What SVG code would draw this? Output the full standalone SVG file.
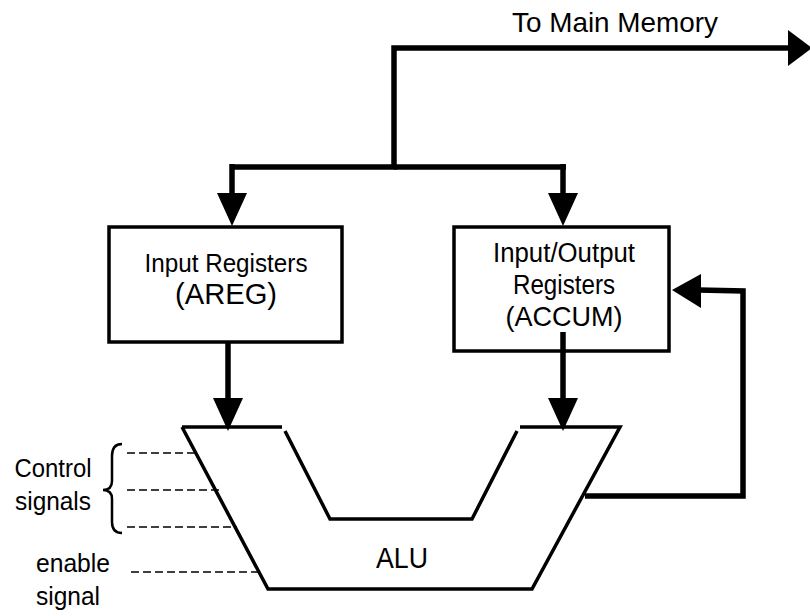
<svg xmlns="http://www.w3.org/2000/svg" width="810" height="616" viewBox="0 0 810 616">
<style>
.t{font-family:"Liberation Sans",Arial,sans-serif;fill:#000}
.box{fill:#fff;stroke:#000;stroke-width:3.5}
.w{fill:none;stroke:#000;stroke-width:5.5;stroke-linejoin:miter;stroke-linecap:butt}
.head{fill:#000;stroke:none}
.dash{fill:none;stroke:#000;stroke-width:1.5;stroke-dasharray:8 4}
</style>
<rect width="810" height="616" fill="#fff"/>
<g id="connectors">
<polyline class="w" points="232,167 394,167 394,48 790,48"/>
<polyline class="w" points="394,167 566,167"/>
<line class="w" x1="232" y1="164" x2="232" y2="195"/>
<polygon class="head" points="217,193 247,193 232,226"/>
<line class="w" x1="563" y1="164" x2="563" y2="195"/>
<polygon class="head" points="548,193 578,193 563,226"/>
<polygon class="head" points="788,30 788,66 812,48"/>
<line class="w" x1="228" y1="332" x2="228" y2="400"/>
<polygon class="head" points="213,398 243,398 228,431"/>
<line class="w" x1="563" y1="332" x2="563" y2="400"/>
<polygon class="head" points="548,398 578,398 563,431"/>
<polyline class="w" points="585,496 743,496 743,291 698,290"/>
<polygon class="head" points="701,274 701,308 672,290"/>
<line class="dash" x1="127" y1="453" x2="196" y2="453"/>
<line class="dash" x1="127" y1="490" x2="219" y2="490"/>
<line class="dash" x1="127" y1="527" x2="237" y2="527"/>
<line class="dash" x1="131" y1="572" x2="261" y2="572"/>
</g>
<g id="node-areg">
<rect class="box" x="109" y="227" width="233" height="115"/>
<text class="t" x="226" y="272" font-size="25" text-anchor="middle" textLength="163" lengthAdjust="spacingAndGlyphs">Input Registers</text>
<text class="t" x="226" y="304" font-size="30" text-anchor="middle" textLength="102" lengthAdjust="spacingAndGlyphs">(AREG)</text>
</g>
<g id="node-accum">
<rect class="box" x="454" y="227" width="215" height="124"/>
<text class="t" x="564" y="262" font-size="27" text-anchor="middle" textLength="142" lengthAdjust="spacingAndGlyphs">Input/Output</text>
<text class="t" x="564" y="294" font-size="27" text-anchor="middle" textLength="102" lengthAdjust="spacingAndGlyphs">Registers</text>
<text class="t" x="564" y="326" font-size="28" text-anchor="middle" textLength="117" lengthAdjust="spacingAndGlyphs">(ACCUM)</text>
<line class="w" x1="563" y1="332" x2="563" y2="351"/>
</g>
<g id="node-alu">
<path d="M182,427 L282,427 M285,431 L330,519 L472,519 L517,431 M520,427 L620,427 L532,589 L268,589 L182,427" fill="none" stroke="#000" stroke-width="3.5" stroke-linejoin="miter"/>
<text class="t" x="402" y="568" font-size="30" text-anchor="middle" textLength="52" lengthAdjust="spacingAndGlyphs">ALU</text>
</g>
<g id="label-memory">
<text class="t" x="615" y="32" font-size="28" text-anchor="middle" textLength="206" lengthAdjust="spacingAndGlyphs">To Main Memory</text>
</g>
<g id="label-control">
<text class="t" x="53" y="477" font-size="25" text-anchor="middle" textLength="77" lengthAdjust="spacingAndGlyphs">Control</text>
<text class="t" x="53" y="510" font-size="25" text-anchor="middle" textLength="76" lengthAdjust="spacingAndGlyphs">signals</text>
<path d="M122,444 Q112,444 112,456 L112,481 Q112,490 103,490 Q112,490 112,499 L112,522 Q112,533 122,533" fill="none" stroke="#000" stroke-width="2.5"/>
</g>
<g id="label-enable">
<text class="t" x="73" y="572" font-size="26" text-anchor="middle" textLength="74" lengthAdjust="spacingAndGlyphs">enable</text>
<text class="t" x="68" y="605" font-size="26" text-anchor="middle" textLength="64" lengthAdjust="spacingAndGlyphs">signal</text>
</g>
</svg>
